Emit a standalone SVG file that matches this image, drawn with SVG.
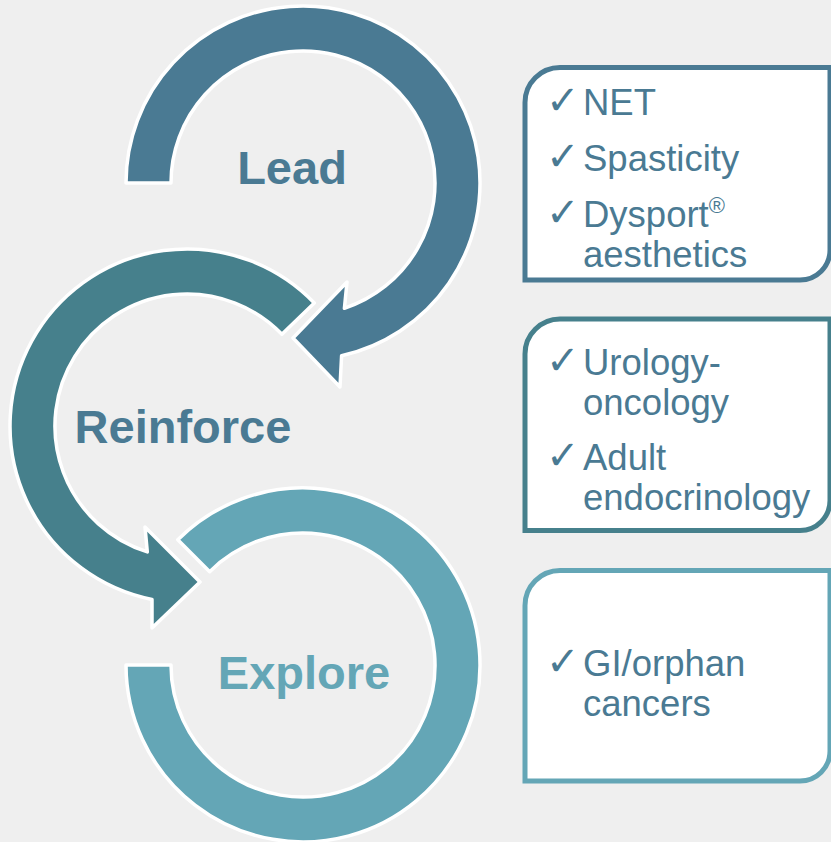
<svg xmlns="http://www.w3.org/2000/svg" width="831" height="842" viewBox="0 0 831 842">
  <style>
    .arc { stroke: #FFFFFF; stroke-width: 3.5; stroke-linejoin: round; }
    .stage { font-family: "Liberation Sans", Arial, sans-serif; font-weight: bold; font-size: 47px; text-anchor: middle; }
    .box { fill: #FFFFFF; stroke-width: 5; }
    .item { font-family: "Liberation Sans", Arial, sans-serif; font-size: 36.5px; fill: #4A7A93; }
    .chk { font-family: "DejaVu Sans", sans-serif; font-size: 40px; fill: #4A7A93; }
  </style>
  <rect x="0" y="0" width="831" height="842" fill="#EFEFEF"/>

  <g id="connectors">
    <path id="arc-explore" class="arc" fill="#64A6B6" d="M 126 665 A 177 177 0 1 0 177.8 539.8 L 209.7 571.7 A 132 132 0 1 1 171 665 Z"/>
    <path id="arc-reinforce" class="arc" fill="#46808C" d="M 314.3 303 A 177 177 0 1 0 152 599.5 L 152 628 L 200 582 L 145 527 L 147.3 551.9 A 132 132 0 1 1 281.9 334.3 Z"/>
    <path id="arc-lead" class="arc" fill="#4A7A93" d="M 126 183 A 177 177 0 1 1 341.6 355.7 L 340 387 L 293 338 L 347 282 L 344.4 308.3 A 132 132 0 1 0 171 183 Z"/>
  </g>

  <g id="node-lead">
    <text class="stage" x="292" y="184" fill="#4A7A93">Lead</text>
  </g>
  <g id="node-reinforce">
    <text class="stage" x="183" y="443" fill="#4A7A93">Reinforce</text>
  </g>
  <g id="node-explore">
    <text class="stage" x="304" y="689" fill="#64A6B6">Explore</text>
  </g>

  <g id="box-lead">
    <path class="box" stroke="#4A7A93" d="M 525 102.5 A 35 35 0 0 1 560 67.5 L 830 67.5 L 830 250 A 30 30 0 0 1 800 280 L 525 280 Z"/>
    <text class="chk" x="546" y="114">✓</text>
    <text class="item" x="583" y="115">NET</text>
    <text class="chk" x="546" y="169.5">✓</text>
    <text class="item" x="583" y="170.5">Spasticity</text>
    <text class="chk" x="546" y="225.5">✓</text>
    <text class="item" x="583" y="226.5">Dysport<tspan font-size="22px" dy="-14">®</tspan></text>
    <text class="item" x="583" y="266.5">aesthetics</text>
  </g>

  <g id="box-reinforce">
    <path class="box" stroke="#46808C" d="M 525 354 A 35 35 0 0 1 560 319 L 830 319 L 830 500.5 A 30 30 0 0 1 800 530.5 L 525 530.5 Z"/>
    <text class="chk" x="546" y="374">✓</text>
    <text class="item" x="583" y="375">Urology-</text>
    <text class="item" x="583" y="415">oncology</text>
    <text class="chk" x="546" y="469">✓</text>
    <text class="item" x="583" y="470">Adult</text>
    <text class="item" x="583" y="510">endocrinology</text>
  </g>

  <g id="box-explore">
    <path class="box" stroke="#64A6B6" d="M 525 605.5 A 35 35 0 0 1 560 570.5 L 830 570.5 L 830 751 A 30 30 0 0 1 800 781 L 525 781 Z"/>
    <text class="chk" x="546" y="675">✓</text>
    <text class="item" x="583" y="676">GI/orphan</text>
    <text class="item" x="583" y="716">cancers</text>
  </g>
</svg>
